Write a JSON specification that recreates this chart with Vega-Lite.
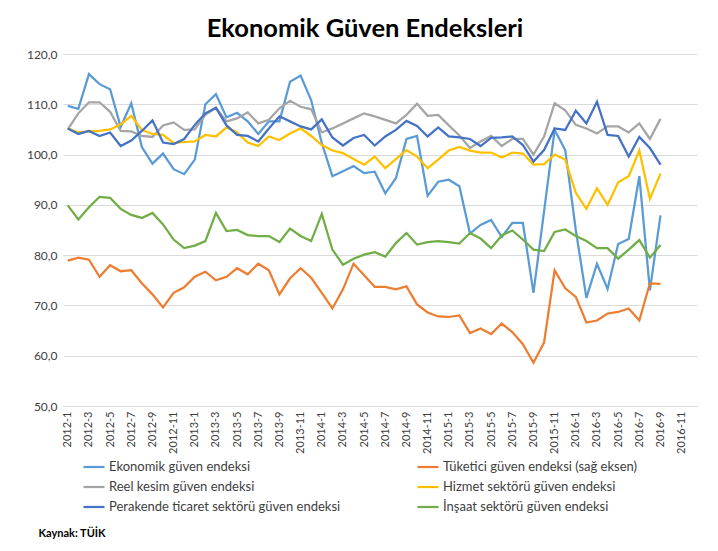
{
  "$schema": "https://vega.github.io/schema/vega-lite/v6.json",
  "width": 634,
  "height": 352,
  "autosize": {"type": "none"},
  "padding": {"left": 63, "top": 54, "right": 21, "bottom": 145},
  "background": "white",
  "title": {"text": "Ekonomik Güven Endeksleri", "fontSize": 25.5, "font": "Lato", "fontWeight": "bold", "color": "#000000", "anchor": "middle", "dx": -15, "offset": 6},
  "data": {"values": [
    {"t":"2012-01","E":109.7,"T":78.9,"R":105.0,"H":105.2,"P":105.2,"I":89.9},
    {"t":"2012-02","E":109.1,"T":79.5,"R":108.2,"H":104.4,"P":104.1,"I":87.1},
    {"t":"2012-03","E":116.0,"T":79.1,"R":110.4,"H":104.6,"P":104.7,"I":89.5},
    {"t":"2012-04","E":114.0,"T":75.7,"R":110.4,"H":104.7,"P":103.7,"I":91.6},
    {"t":"2012-05","E":113.0,"T":78.0,"R":108.5,"H":105.0,"P":104.4,"I":91.4},
    {"t":"2012-06","E":105.5,"T":76.8,"R":104.7,"H":106.0,"P":101.7,"I":89.2},
    {"t":"2012-07","E":110.2,"T":77.0,"R":104.6,"H":107.7,"P":102.8,"I":88.0},
    {"t":"2012-08","E":101.5,"T":74.4,"R":103.7,"H":104.9,"P":104.7,"I":87.4},
    {"t":"2012-09","E":98.2,"T":72.2,"R":103.5,"H":104.1,"P":106.8,"I":88.4},
    {"t":"2012-10","E":100.2,"T":69.6,"R":105.8,"H":103.9,"P":102.4,"I":86.1},
    {"t":"2012-11","E":97.1,"T":72.5,"R":106.4,"H":102.3,"P":102.1,"I":83.1},
    {"t":"2012-12","E":96.1,"T":73.6,"R":104.9,"H":102.5,"P":103.1,"I":81.4},
    {"t":"2013-01","E":99.0,"T":75.7,"R":105.0,"H":102.6,"P":105.9,"I":81.9},
    {"t":"2013-02","E":110.0,"T":76.7,"R":107.9,"H":103.9,"P":108.2,"I":82.8},
    {"t":"2013-03","E":112.0,"T":75.0,"R":109.3,"H":103.6,"P":109.3,"I":88.4},
    {"t":"2013-04","E":107.4,"T":75.7,"R":106.6,"H":105.4,"P":105.8,"I":84.8},
    {"t":"2013-05","E":108.3,"T":77.4,"R":107.2,"H":104.4,"P":103.9,"I":85.0},
    {"t":"2013-06","E":106.6,"T":76.2,"R":108.4,"H":102.4,"P":103.7,"I":84.0},
    {"t":"2013-07","E":104.1,"T":78.3,"R":106.2,"H":101.7,"P":102.6,"I":83.8},
    {"t":"2013-08","E":106.6,"T":77.0,"R":106.9,"H":103.6,"P":105.2,"I":83.8},
    {"t":"2013-09","E":106.6,"T":72.2,"R":109.2,"H":102.9,"P":107.6,"I":82.6},
    {"t":"2013-10","E":114.5,"T":75.4,"R":110.7,"H":104.2,"P":106.6,"I":85.3},
    {"t":"2013-11","E":115.7,"T":77.4,"R":109.5,"H":105.2,"P":105.6,"I":83.8},
    {"t":"2013-12","E":110.8,"T":75.5,"R":109.0,"H":103.7,"P":105.0,"I":82.8},
    {"t":"2014-01","E":102.3,"T":72.5,"R":104.4,"H":101.9,"P":107.0,"I":88.2},
    {"t":"2014-02","E":95.7,"T":69.4,"R":105.2,"H":100.8,"P":103.4,"I":81.1},
    {"t":"2014-03","E":96.7,"T":73.2,"R":106.2,"H":100.3,"P":101.8,"I":78.1},
    {"t":"2014-04","E":97.7,"T":78.3,"R":107.2,"H":99.1,"P":103.3,"I":79.3},
    {"t":"2014-05","E":96.3,"T":76.0,"R":108.2,"H":98.0,"P":103.9,"I":80.1},
    {"t":"2014-06","E":96.6,"T":73.7,"R":107.6,"H":99.6,"P":101.8,"I":80.6},
    {"t":"2014-07","E":92.3,"T":73.7,"R":106.9,"H":97.3,"P":103.6,"I":79.7},
    {"t":"2014-08","E":95.3,"T":73.2,"R":106.2,"H":99.1,"P":104.9,"I":82.4},
    {"t":"2014-09","E":103.1,"T":73.8,"R":107.9,"H":100.9,"P":106.7,"I":84.4},
    {"t":"2014-10","E":103.7,"T":70.2,"R":110.1,"H":99.6,"P":105.7,"I":82.1},
    {"t":"2014-11","E":91.8,"T":68.6,"R":107.7,"H":97.3,"P":103.6,"I":82.6},
    {"t":"2014-12","E":94.6,"T":67.8,"R":107.9,"H":99.0,"P":105.4,"I":82.8},
    {"t":"2015-01","E":95.0,"T":67.7,"R":105.8,"H":100.8,"P":103.6,"I":82.6},
    {"t":"2015-02","E":93.7,"T":68.0,"R":103.8,"H":101.5,"P":103.4,"I":82.3},
    {"t":"2015-03","E":84.3,"T":64.5,"R":101.3,"H":100.8,"P":103.1,"I":84.4},
    {"t":"2015-04","E":86.0,"T":65.4,"R":102.6,"H":100.4,"P":101.7,"I":83.3},
    {"t":"2015-05","E":87.0,"T":64.3,"R":103.7,"H":100.4,"P":103.3,"I":81.4},
    {"t":"2015-06","E":83.6,"T":66.4,"R":101.7,"H":99.4,"P":103.4,"I":83.9},
    {"t":"2015-07","E":86.4,"T":64.7,"R":103.1,"H":100.4,"P":103.6,"I":84.9},
    {"t":"2015-08","E":86.4,"T":62.3,"R":103.1,"H":100.2,"P":101.9,"I":83.1},
    {"t":"2015-09","E":72.5,"T":58.6,"R":100.0,"H":98.0,"P":98.6,"I":81.1},
    {"t":"2015-10","E":88.7,"T":62.6,"R":103.6,"H":98.1,"P":100.9,"I":80.8},
    {"t":"2015-11","E":104.9,"T":77.0,"R":110.2,"H":100.0,"P":105.2,"I":84.6},
    {"t":"2015-12","E":100.9,"T":73.4,"R":108.8,"H":99.0,"P":104.9,"I":85.1},
    {"t":"2016-01","E":85.0,"T":71.7,"R":105.9,"H":92.4,"P":108.7,"I":83.8},
    {"t":"2016-02","E":71.5,"T":66.6,"R":105.2,"H":89.2,"P":106.2,"I":82.8},
    {"t":"2016-03","E":78.3,"T":67.0,"R":104.2,"H":93.3,"P":110.5,"I":81.4},
    {"t":"2016-04","E":73.3,"T":68.4,"R":105.6,"H":90.0,"P":103.9,"I":81.4},
    {"t":"2016-05","E":82.2,"T":68.7,"R":105.6,"H":94.5,"P":103.7,"I":79.3},
    {"t":"2016-06","E":83.2,"T":69.4,"R":104.4,"H":95.7,"P":99.6,"I":81.1},
    {"t":"2016-07","E":95.7,"T":67.0,"R":106.2,"H":100.8,"P":103.5,"I":83.0},
    {"t":"2016-08","E":73.0,"T":74.4,"R":103.1,"H":91.2,"P":101.3,"I":79.5},
    {"t":"2016-09","E":87.9,"T":74.3,"R":107.1,"H":96.2,"P":98.0,"I":82.0}
  ]},
  "transform": [{"fold": ["E", "T", "R", "H", "P", "I"], "as": ["s", "v"]}],
  "mark": {"type": "line", "strokeWidth": 2.25},
  "encoding": {
    "x": {
      "field": "t", "type": "ordinal",
      "scale": {"type": "point", "padding": 0.45, "domain": ["2012-01","2012-02","2012-03","2012-04","2012-05","2012-06","2012-07","2012-08","2012-09","2012-10","2012-11","2012-12","2013-01","2013-02","2013-03","2013-04","2013-05","2013-06","2013-07","2013-08","2013-09","2013-10","2013-11","2013-12","2014-01","2014-02","2014-03","2014-04","2014-05","2014-06","2014-07","2014-08","2014-09","2014-10","2014-11","2014-12","2015-01","2015-02","2015-03","2015-04","2015-05","2015-06","2015-07","2015-08","2015-09","2015-10","2015-11","2015-12","2016-01","2016-02","2016-03","2016-04","2016-05","2016-06","2016-07","2016-08","2016-09","2016-10","2016-11","2016-12"]},
      "axis": {
        "values": ["2012-01","2012-03","2012-05","2012-07","2012-09","2012-11","2013-01","2013-03","2013-05","2013-07","2013-09","2013-11","2014-01","2014-03","2014-05","2014-07","2014-09","2014-11","2015-01","2015-03","2015-05","2015-07","2015-09","2015-11","2016-01","2016-03","2016-05","2016-07","2016-09","2016-11"],
        "labelExpr": "replace(datum.label, '-0', '-')",
        "labelAngle": -90, "labelFontSize": 11, "labelColor": "#404040", "labelFont": "Lato",
        "labelPadding": 5, "ticks": false, "domain": true, "domainColor": "#d9d9d9", "grid": false,
        "title": "Kaynak: TÜİK", "titleX": -25, "titleY": 127, "titleAlign": "left", "titleAngle": 0,
        "titleBaseline": "middle", "titleFontSize": 11, "titleFontWeight": "bold", "titleFont": "Lato", "titleColor": "#000000"
      }
    },
    "y": {
      "field": "v", "type": "quantitative",
      "scale": {"domain": [50, 120], "nice": false, "zero": false},
      "axis": {
        "values": [50, 60, 70, 80, 90, 100, 110, 120],
        "labelExpr": "replace(format(datum.value, '.1f'), '.', ',')",
        "grid": true, "gridColor": "#d9d9d9", "domain": false, "ticks": false, "title": null,
        "labelPadding": 6, "labelFontSize": 12, "labelColor": "#404040", "labelFont": "Lato"
      }
    },
    "color": {
      "field": "s", "type": "nominal",
      "scale": {"domain": ["E", "T", "R", "H", "P", "I"], "range": ["#5B9BD5", "#ED7D31", "#A5A5A5", "#FFC000", "#4472C4", "#70AD47"]},
      "legend": {
        "orient": "none", "legendX": 19, "legendY": 401, "direction": "horizontal", "columns": 2,
        "columnPadding": 72, "rowPadding": 1, "symbolType": "stroke", "symbolSize": 441, "symbolStrokeWidth": 2.25,
        "labelFontSize": 13, "labelFont": "Lato", "labelColor": "#404040", "labelOffset": 3, "labelLimit": 400, "title": null,
        "labelExpr": "{'E': 'Ekonomik güven endeksi', 'T': 'Tüketici güven endeksi (sağ eksen)', 'R': 'Reel kesim güven endeksi', 'H': 'Hizmet sektörü güven endeksi', 'P': 'Perakende ticaret sektörü güven endeksi', 'I': 'İnşaat sektörü güven endeksi'}[datum.label]"
      }
    }
  },
  "config": {"view": {"stroke": null}, "font": "Lato"}
}
